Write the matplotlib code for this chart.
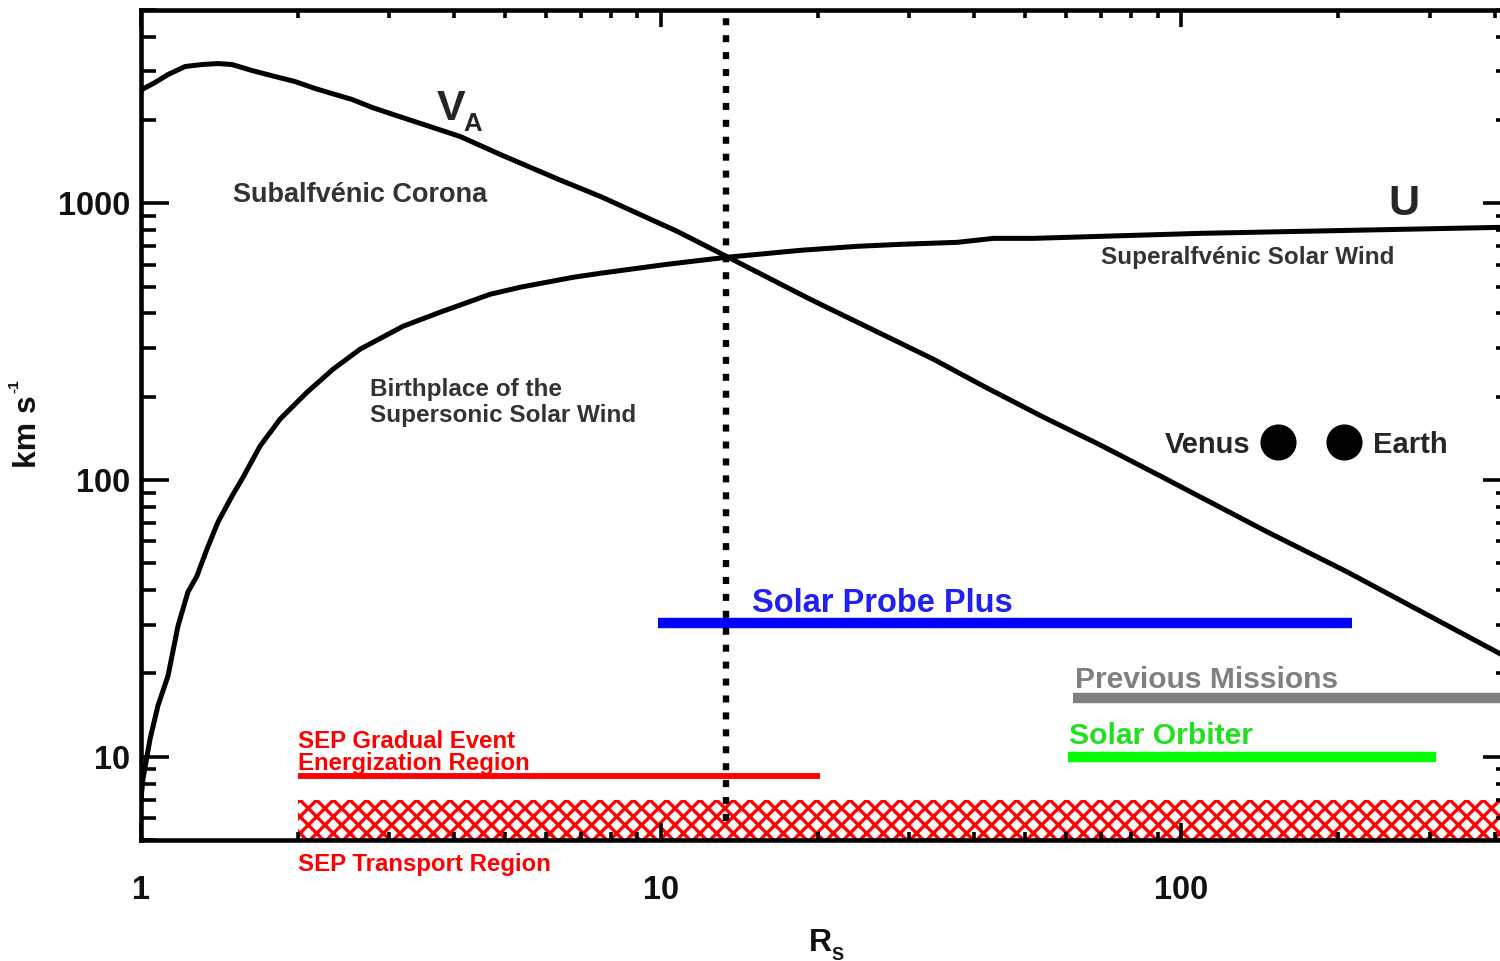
import matplotlib
matplotlib.use("Agg")
import matplotlib.pyplot as plt
from matplotlib.ticker import LogLocator, NullFormatter, FixedLocator, FixedFormatter

plt.rcParams["font.family"] = ["Liberation Sans", "DejaVu Sans"]
plt.rcParams["font.weight"] = "bold"
plt.rcParams["hatch.linewidth"] = 2.4

# ------------------------------------
# 1. Values
#    (distance in solar radii, speed in km/s)
# ------------------------------------
r_wind = [1.0, 1.009, 1.041, 1.078, 1.127, 1.178, 1.231, 1.281, 1.339, 1.406,
          1.496, 1.564, 1.694, 1.851, 2.086, 2.34, 2.637, 3.19, 3.758, 4.69,
          5.356, 6.772, 7.633, 10.27, 13.34, 18.51, 23.83, 28.82, 37.09, 43.5,
          51.9, 69.86, 108.8, 169.3, 263.8, 410.8, 430]
u_wind = [7.05, 8.33, 11.6, 15.3, 19.6, 29.7, 39.4, 45.0, 56.3, 70.5,
          87.5, 100.8, 132.7, 166.1, 207.8, 251.6, 297.1, 359.7, 404.2, 469.4,
          497.6, 540.6, 558.9, 602.4, 638.4, 676.6, 699.6, 711.2, 723.1, 747.4,
          747.4, 760.1, 779.3, 792.4, 805.7, 819.1, 819.1]

r_alfven = [1.0, 1.004, 1.064, 1.127, 1.215, 1.31, 1.406, 1.496, 1.635, 1.81,
            1.978, 2.161, 2.361, 2.545, 2.782, 3.052, 4.107, 4.902, 6.393, 7.633,
            10.73, 13.34, 19.34, 23.83, 33.36, 41.63, 54.28, 69.86, 91.1, 108.8,
            146.3, 208.5, 275.7, 410.8, 430]
v_alfven = [2537, 2580, 2734, 2922, 3123, 3176, 3202, 3176, 3021, 2874,
            2756, 2602, 2475, 2375, 2222, 2096, 1745, 1503, 1214, 1060,
            792.4, 643.7, 450.2, 371.9, 273.4, 218.5, 168.8, 133.8, 103.4, 86.8,
            64.9, 46.5, 35.1, 23.5, 22.4]

alfven_r = 13.3

spp_range = [9.86, 213]
spp_level = 30.5
previous_range = [62, 430]
previous_level = 16.3
orbiter_range = [60.6, 309]
orbiter_level = 10.0
sep_energ_range = [2.0, 20.2]
sep_energ_level = 8.5
sep_transport_range = [2.0, 430]
sep_transport_low = 5
sep_transport_high = 7

planet_names = ["Venus", "Earth"]
planet_r = [153, 205]
planet_v = [137, 137]

x_ticks = [1, 10, 100]
x_tick_labels = ["1", "10", "100"]
y_ticks = [10, 100, 1000]
y_tick_labels = ["10", "100", "1000"]

# ------------------------------------
# 2. Figure and axes
# ------------------------------------
fig = plt.figure(figsize=(15, 9.61), dpi=100)
ax = fig.add_axes([141 / 1500, 1 - 840 / 961, 1370 / 1500, 830 / 961])
ax.set_xscale("log")
ax.set_yscale("log")
ax.set_xlim(1, 430)
ax.set_ylim(5, 5000)

# curves
ax.plot(r_alfven, v_alfven, color="black", lw=3.6, zorder=4)
ax.plot(r_wind, u_wind, color="black", lw=3.6, zorder=4)

# Alfven point
ax.plot([alfven_r, alfven_r], [5.85, 5000], color="black", lw=4.6,
        linestyle=(0, (1.1, 1.55)), dash_capstyle="butt", zorder=5)

# mission / region bars
ax.plot(spp_range, [spp_level] * 2, color="#0000ff", lw=7.5, solid_capstyle="butt")
ax.plot(previous_range, [previous_level] * 2, color="#808080", lw=7.5,
        solid_capstyle="butt")
ax.plot(orbiter_range, [orbiter_level] * 2, color="#00ff00", lw=7.5,
        solid_capstyle="butt")
ax.plot(sep_energ_range, [sep_energ_level] * 2, color="#ff0000", lw=4.2,
        solid_capstyle="butt")
ax.fill_between(sep_transport_range, sep_transport_low, sep_transport_high,
                facecolor="none", edgecolor="#ff0000", hatch="xx", linewidth=0,
                zorder=1)

# planets
ax.plot(planet_r, planet_v, "o", color="black", ms=25, zorder=4)

# ------------------------------------
# 3. Labels on the plot
# ------------------------------------
dark = "#262626"
ax.text(1.503, 1010, "Subalfvénic Corona", fontsize=19.5, color="#333333")
ax.text(69.9, 602, "Superalfvénic Solar Wind", fontsize=17.5, color="#333333")
ax.text(2.757, 162, "Birthplace of the\nSupersonic Solar Wind",
        fontsize=17.5, color="#333333", linespacing=1.17)
ax.text(3.709, 2009, "V", fontsize=31, color=dark)
ax.text(4.161, 1820, "A", fontsize=18.5, color=dark)
ax.text(250, 905, "U", fontsize=31, color=dark)

ax.text(14.96, 33.4, "Solar Probe Plus", fontsize=23.5, color="#2020f0")
ax.text(62.3, 17.7, "Previous Missions", fontsize=21.6, color="#808080")
ax.text(60.9, 11.1, "Solar Orbiter", fontsize=21.7, color="#20e020")
ax.text(2.0, 8.95, "SEP Gradual Event\nEnergization Region", fontsize=17.3,
        color="#ff0000", linespacing=0.95)
ax.text(2.0, 3.85, "SEP Transport Region", fontsize=17.3, color="#ff0000",
        clip_on=False)

ax.text(planet_r[0] * 0.887, 125.2, planet_names[0], fontsize=21, color=dark,
        ha="right")
ax.text(planet_r[1] * 1.14, 125.2, planet_names[1], fontsize=21, color=dark,
        ha="left")

# ------------------------------------
# 4. Axes styling
# ------------------------------------
for side in ax.spines.values():
    side.set_linewidth(3.3)

ax.xaxis.set_major_locator(FixedLocator(x_ticks))
ax.xaxis.set_major_formatter(FixedFormatter(x_tick_labels))
ax.yaxis.set_major_locator(FixedLocator(y_ticks))
ax.yaxis.set_major_formatter(FixedFormatter(y_tick_labels))
ax.xaxis.set_minor_locator(LogLocator(base=10, subs=range(2, 10), numticks=20))
ax.yaxis.set_minor_locator(LogLocator(base=10, subs=range(2, 10), numticks=20))
ax.xaxis.set_minor_formatter(NullFormatter())
ax.yaxis.set_minor_formatter(NullFormatter())

ax.tick_params(which="both", direction="in", top=True, right=True, width=2.6,
               labelsize=23.5, labelcolor="#111111")
ax.tick_params(axis="x", which="major", length=12, pad=25)
ax.tick_params(axis="x", which="minor", length=5.5)
ax.tick_params(axis="y", which="major", length=20, pad=8)
ax.tick_params(axis="y", which="minor", length=11)

# axis titles built from pieces to get the small sub/superscripts
fig.text(809 / 1500, 1 - 951 / 961, "R", fontsize=23, color="#111111",
         va="baseline")
fig.text(831 / 1500, 1 - 960 / 961, "S", fontsize=13, color="#111111",
         va="baseline")
fig.text(43 / 1500, 1 - 468 / 961, "km s", fontsize=23, color="#111111",
         rotation=90, ha="right", va="bottom")
fig.text(21 / 1500, 1 - 393 / 961, "-1", fontsize=11, color="#111111",
         rotation=90, ha="right", va="bottom")

fig.savefig("out.png", dpi=100)
